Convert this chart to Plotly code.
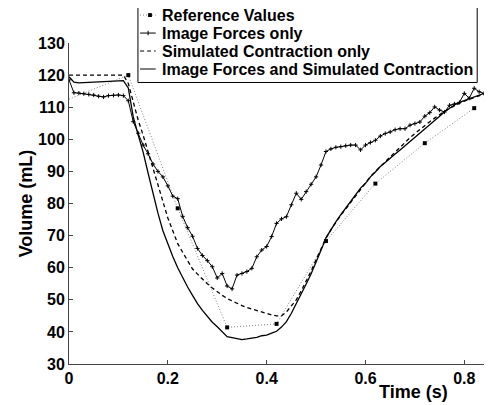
import plotly.graph_objects as go

# sample times (s) for the three segmentation curves, one frame every 10 ms
time_s = [round(0.01 * i, 2) for i in range(86)]

ref_time = [0.0, 0.12, 0.22, 0.32, 0.42, 0.52, 0.62, 0.72, 0.82]
ref_volume = [112.5, 120.0, 78.5, 41.4, 42.5, 68.3, 86.2, 98.8, 109.7]

image_forces = [118.5, 114.5, 114.4, 114.2, 114.0, 113.8, 113.4, 113.2, 113.6, 113.7,
                113.8, 113.6, 112.0, 105.5, 101.9, 98.2, 95.5, 92.3, 90.0, 88.3,
                85.5, 82.3, 81.5, 76.0, 72.5, 69.8, 66.0, 63.8, 62.2, 60.3,
                56.8, 58.2, 54.3, 53.4, 57.7, 58.2, 58.8, 59.8, 63.4, 65.5,
                66.6, 69.7, 73.8, 75.2, 75.9, 79.6, 83.2, 81.3, 83.7, 86.0,
                88.3, 92.0, 96.2, 97.0, 97.5, 97.7, 98.0, 98.2, 98.2, 96.7,
                98.2, 99.0, 99.7, 101.0, 101.8, 102.3, 103.0, 103.3, 103.3, 104.4,
                104.9, 105.4, 107.2, 108.3, 110.1, 109.1, 108.5, 110.6, 111.0, 111.5,
                114.3, 112.8, 115.9, 114.8, 114.3, 115.3]

simulated = [120.0, 120.0, 120.0, 120.0, 120.0, 120.0, 120.0, 120.0, 120.0, 120.0,
             120.0, 120.0, 117.4, 111.5, 106.0, 101.3, 96.0, 90.8, 85.8, 80.5,
             75.5, 71.5, 67.5, 64.8, 62.0, 59.6, 58.0, 56.4, 55.0, 53.7,
             52.5, 51.4, 50.4, 49.6, 48.9, 48.2, 47.6, 47.1, 46.6, 46.1,
             45.7, 45.3, 45.0, 45.0, 46.2, 48.0, 50.0, 52.8, 55.8, 59.0,
             62.5, 66.0, 69.2, 71.8, 74.2, 76.4, 78.3, 80.3, 82.3, 84.4,
             86.5, 88.4, 90.0, 91.5, 93.0, 94.6, 96.1, 97.8, 99.3, 100.5,
             101.8, 103.1, 104.3, 105.5, 106.6, 107.7, 108.7, 109.6, 110.5, 111.2,
             111.9, 112.5, 113.0, 113.6, 114.1, 114.6]

combined = [119.5, 117.8, 117.6, 117.7, 117.8, 117.8, 117.9, 118.0, 118.2, 118.3,
            118.4, 118.3, 116.0, 107.0, 101.4, 96.0, 89.5, 82.8, 77.0, 71.5,
            67.3, 63.5, 60.0, 56.8, 54.0, 51.4, 48.8, 46.7, 44.7, 43.0,
            41.6, 39.9, 38.5, 38.2, 38.0, 37.6, 37.8, 38.0, 38.3, 38.8,
            39.0, 39.6, 40.2, 41.5, 43.2, 45.8, 48.7, 51.6, 54.9, 58.1,
            61.6, 65.4, 69.3, 72.0, 74.3, 76.5, 78.6, 80.5, 82.8, 84.8,
            86.3, 88.3, 89.8, 91.5, 92.8, 94.0, 95.4, 96.7, 98.0, 99.2,
            100.4, 101.7, 103.0, 104.4, 105.8, 107.2, 108.6, 109.7, 110.7, 111.5,
            112.1, 112.7, 113.2, 113.8, 114.4, 114.9]

legend_labels = ['Reference Values', 'Image Forces only',
                 'Simulated Contraction only', 'Image Forces and Simulated Contraction']

FONT = 'Liberation Sans, Arial, sans-serif'
DOTTED = '1px,2px'
DASHED = '4px,3px'

fig = go.Figure()

fig.add_trace(go.Scatter(x=ref_time, y=ref_volume, name=legend_labels[0],
                         mode='lines',
                         line=dict(color='#808080', width=1, dash=DOTTED)))

fig.add_trace(go.Scatter(x=time_s, y=image_forces, name=legend_labels[1],
                         mode='lines+markers',
                         line=dict(color='black', width=1),
                         marker=dict(symbol='cross-thin', size=3,
                                     line=dict(color='black', width=1))))

fig.add_trace(go.Scatter(x=time_s, y=simulated, name=legend_labels[2],
                         mode='lines',
                         line=dict(color='black', width=1.3, dash=DASHED)))

fig.add_trace(go.Scatter(x=time_s, y=combined, name=legend_labels[3],
                         mode='lines',
                         line=dict(color='black', width=1.3)))

# reference squares on top (first value sits on the axis, left unmarked)
fig.add_trace(go.Scatter(x=ref_time[1:], y=ref_volume[1:], mode='markers',
                         marker=dict(symbol='square', color='black', size=4,
                                     line=dict(width=0))))

# compact boxed legend drawn by hand (plotly's own rows are too tall)
row_y = [1.087, 1.031, 0.975, 0.919]
shapes = [dict(type='rect', xref='paper', yref='paper', x0=0.163, x1=0.965,
               y0=0.877, y1=1.125, line=dict(color='black', width=1),
               fillcolor='white', layer='above')]
sample_styles = [dict(color='#808080', width=1, dash=DOTTED),
                 dict(color='black', width=1),
                 dict(color='black', width=1, dash=DASHED),
                 dict(color='black', width=1)]
for yy, style in zip(row_y, sample_styles):
    shapes.append(dict(type='line', xref='paper', yref='paper', x0=0.168, x1=0.205,
                       y0=yy, y1=yy, line=style, layer='above'))
# marker samples: square for reference values, small tick for image forces
shapes.append(dict(type='rect', xref='paper', yref='paper', x0=0.187, x1=0.196,
                   y0=row_y[0] - 0.006, y1=row_y[0] + 0.006,
                   fillcolor='black', line=dict(width=0), layer='above'))
shapes.append(dict(type='line', xref='paper', yref='paper', x0=0.187, x1=0.187,
                   y0=row_y[1] - 0.007, y1=row_y[1] + 0.007,
                   line=dict(color='black', width=1), layer='above'))

annotations = [dict(text='<b>%s</b>' % lab, xref='paper', yref='paper',
                    x=0.215, y=yy, xanchor='left', yanchor='middle',
                    showarrow=False, font=dict(size=16))
               for lab, yy in zip(legend_labels, row_y)]
annotations.append(dict(text='<b>Time (s)</b>', xref='paper', yref='paper',
                        x=0.9, y=-0.087, xanchor='right', yanchor='middle',
                        showarrow=False, font=dict(size=18)))

# the page adds an 8px body margin, so the figure is 8px smaller each way
fig.update_layout(width=484, height=397,
                  margin={"r": 0, "t": 35, "l": 61, "b": 41},
                  template='plotly_white',
                  plot_bgcolor='white',
                  paper_bgcolor='white',
                  showlegend=False,
                  font=dict(family=FONT, size=16, color='black'),
                  shapes=shapes,
                  annotations=annotations)

fig.update_xaxes(range=[0, 0.856], tickvals=[0, 0.2, 0.4, 0.6, 0.8],
                 ticktext=['0', '0.2', '0.4', '0.6', '0.8'],
                 showgrid=False, zeroline=False, showline=True,
                 linecolor='#444', linewidth=1, ticks='inside', ticklen=4,
                 tickcolor='#444', tickfont=dict(size=16, weight='bold'))

fig.update_yaxes(range=[30, 130], dtick=10,
                 showgrid=False, zeroline=False, showline=True,
                 linecolor='#444', linewidth=1, ticks='inside', ticklen=4,
                 tickcolor='#444', tickfont=dict(size=16, weight='bold'),
                 title=dict(text='<b>Volume (mL)</b>', font=dict(size=18), standoff=0))

fig.write_html("out.html")
